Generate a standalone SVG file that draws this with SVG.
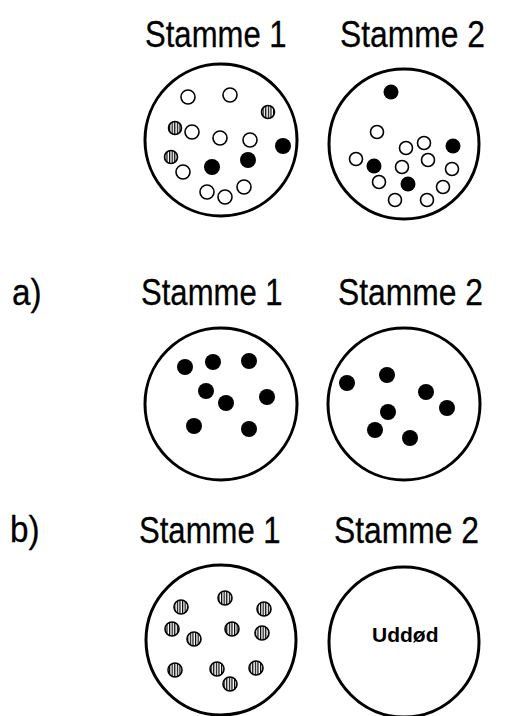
<svg xmlns="http://www.w3.org/2000/svg" width="509" height="716" viewBox="0 0 509 716">
<style>
.lbl{font-family:"Liberation Sans",Arial,sans-serif;font-size:37px;fill:#000;stroke:#000;stroke-width:0.3}
.big{fill:none;stroke:#000;stroke-width:3}
.o{fill:#fff;stroke:#000;stroke-width:1.6}
.f{fill:#000}
.h{fill:url(#hatch);stroke:#000;stroke-width:1.6}
.ud{font-family:"Liberation Sans",Arial,sans-serif;font-size:21px;font-weight:bold;fill:#000}
</style>
<defs>
<pattern id="hatch" width="2.6" height="4" patternUnits="userSpaceOnUse">
<rect width="2.6" height="4" fill="#fff"/>
<rect width="1.2" height="4" fill="#000"/>
</pattern>
</defs>
<rect width="509" height="716" fill="#fff"/>

<g id="labels">
<text class="lbl" transform="translate(145,47) scale(0.84,1)">Stamme 1</text>
<text class="lbl" transform="translate(340,47) scale(0.86,1)">Stamme 2</text>
<text class="lbl" transform="translate(12,305) scale(0.9,1)">a)</text>
<text class="lbl" transform="translate(141,305) scale(0.84,1)">Stamme 1</text>
<text class="lbl" transform="translate(338,305) scale(0.86,1)">Stamme 2</text>
<text class="lbl" transform="translate(10,542) scale(0.9,1)">b)</text>
<text class="lbl" transform="translate(139,543) scale(0.84,1)">Stamme 1</text>
<text class="lbl" transform="translate(334,543) scale(0.86,1)">Stamme 2</text>
</g>

<g id="top-stamme1">
<circle class="big" cx="221" cy="140" r="76"/>
<circle class="o" cx="188" cy="97" r="7"/>
<circle class="o" cx="230" cy="95" r="7"/>
<circle class="h" cx="268" cy="112" r="6.5"/>
<circle class="h" cx="175" cy="128" r="6.5"/>
<circle class="o" cx="192" cy="132" r="7"/>
<circle class="o" cx="220" cy="138" r="7"/>
<circle class="o" cx="250" cy="140" r="7"/>
<circle class="f" cx="283" cy="146" r="8"/>
<circle class="h" cx="171" cy="157" r="6.5"/>
<circle class="f" cx="248" cy="160" r="8"/>
<circle class="f" cx="212" cy="167" r="8"/>
<circle class="o" cx="183" cy="172" r="7"/>
<circle class="o" cx="207" cy="192" r="7"/>
<circle class="o" cx="225" cy="197" r="7"/>
<circle class="o" cx="244" cy="187" r="7"/>
</g>

<g id="top-stamme2">
<circle class="big" cx="404" cy="144" r="75"/>
<circle class="f" cx="391" cy="92" r="7.5"/>
<circle class="o" cx="377" cy="132" r="6.5"/>
<circle class="o" cx="406" cy="148" r="6.5"/>
<circle class="o" cx="424" cy="143" r="6.5"/>
<circle class="f" cx="453" cy="146" r="7.5"/>
<circle class="o" cx="356" cy="159" r="6.5"/>
<circle class="f" cx="374" cy="166" r="7.5"/>
<circle class="o" cx="402" cy="167" r="6.5"/>
<circle class="o" cx="428" cy="160" r="6.5"/>
<circle class="o" cx="452" cy="169" r="6.5"/>
<circle class="o" cx="379" cy="182" r="6.5"/>
<circle class="f" cx="408" cy="184" r="7.5"/>
<circle class="o" cx="443" cy="187" r="6.5"/>
<circle class="o" cx="395" cy="200" r="6.5"/>
<circle class="o" cx="427" cy="200" r="6.5"/>
</g>

<g id="a-stamme1">
<circle class="big" cx="221" cy="404" r="76"/>
<circle class="f" cx="185" cy="367" r="8"/>
<circle class="f" cx="213" cy="362" r="8"/>
<circle class="f" cx="249" cy="361" r="8"/>
<circle class="f" cx="206" cy="391" r="8"/>
<circle class="f" cx="267" cy="397" r="8"/>
<circle class="f" cx="226" cy="403" r="8"/>
<circle class="f" cx="194" cy="426" r="8"/>
<circle class="f" cx="249" cy="429" r="8"/>
</g>

<g id="a-stamme2">
<circle class="big" cx="404" cy="404" r="76"/>
<circle class="f" cx="347" cy="383" r="8"/>
<circle class="f" cx="387" cy="375" r="8"/>
<circle class="f" cx="426" cy="392" r="8"/>
<circle class="f" cx="447" cy="408" r="8"/>
<circle class="f" cx="388" cy="412" r="8"/>
<circle class="f" cx="375" cy="430" r="8"/>
<circle class="f" cx="410" cy="438" r="8"/>
</g>

<g id="b-stamme1">
<circle class="big" cx="221" cy="640" r="75"/>
<circle class="h" cx="225" cy="598" r="7"/>
<circle class="h" cx="181" cy="607" r="7"/>
<circle class="h" cx="264" cy="609" r="7"/>
<circle class="h" cx="172" cy="629" r="7"/>
<circle class="h" cx="232" cy="629" r="7"/>
<circle class="h" cx="262" cy="633" r="7"/>
<circle class="h" cx="194" cy="639" r="7"/>
<circle class="h" cx="175" cy="670" r="7"/>
<circle class="h" cx="217" cy="669" r="7"/>
<circle class="h" cx="256" cy="668" r="7"/>
<circle class="h" cx="230" cy="684" r="7"/>
</g>

<g id="b-stamme2">
<circle class="big" cx="404" cy="642" r="75"/>
<text class="ud" x="372" y="642">Uddød</text>
</g>
</svg>
